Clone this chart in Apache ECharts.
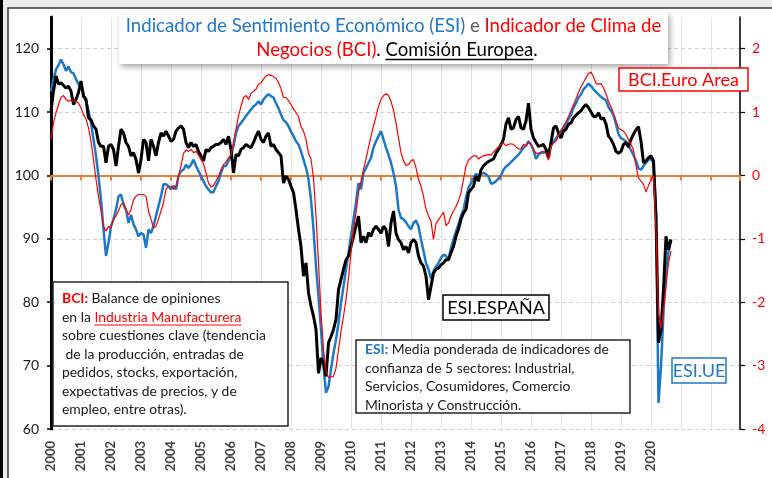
<!DOCTYPE html>
<html><head><meta charset="utf-8">
<script src="https://cdn.jsdelivr.net/npm/echarts@6/dist/echarts.min.js"></script>
<style>html,body{margin:0;padding:0;background:#fff}#c{width:772px;height:478px}</style>
</head><body><div id="c"></div>
<script>
// ---------- DATA (monthly, starting January 2000) ----------
const startYear = 2000;
const lastLabelYear = 2020;
const leftTicks = [60, 70, 80, 90, 100, 110, 120];
const rightTicks = [-4, -3, -2, -1, 0, 1, 2];

// ESI - European Union (left axis)
const esiUE = [
113.3,115.2,116.7,117.4,118.3,117.5,116.5,117.2,116.3,116.1,115.2,114.4,
114.1,112.8,111.7,110.2,108.3,105.7,103.1,99.9,96.2,91.5,87.3,89.4,
92.0,93.1,94.6,96.7,97.0,95.4,94.6,92.5,93.8,92.3,91.5,90.4,
90.9,90.7,88.6,91.5,90.9,92.0,93.6,95.2,96.7,98.6,98.6,98.3,
97.8,98.4,97.8,99.9,100.7,100.9,101.7,101.2,101.7,102.5,101.5,100.7,
99.9,99.1,98.3,97.8,97.3,97.4,98.3,99.1,100.4,101.5,101.5,102.3,
103.1,104.6,106.7,107.8,108.3,108.8,109.4,109.9,110.4,110.9,111.2,111.7,
111.2,112.0,112.5,112.8,112.5,112.3,111.4,110.6,109.6,108.7,108.4,107.8,
106.9,106.2,105.4,104.9,103.8,102.5,101.2,99.4,96.2,91.5,85.7,80.9,
75.7,69.9,65.7,66.7,69.4,72.0,74.1,76.7,79.9,82.5,85.2,87.8,
90.4,93.1,95.7,98.8,97.8,100.4,101.2,102.0,102.8,104.4,105.4,106.2,
107.0,105.7,104.4,103.3,102.0,100.4,98.3,94.6,93.3,93.1,92.6,92.0,
91.5,92.5,92.9,92.0,89.9,88.1,86.2,85.2,83.7,84.9,85.6,86.2,
87.0,87.5,87.3,86.7,88.6,89.9,91.2,92.3,93.6,94.6,96.5,98.1,
98.8,99.6,100.3,99.9,100.3,100.4,100.2,99.8,98.7,98.8,99.1,99.5,
100.0,100.9,101.4,101.7,102.1,102.5,102.9,103.3,103.8,104.4,104.7,105.4,
104.9,104.0,102.6,103.3,103.6,103.6,103.7,104.0,104.6,105.4,105.8,106.5,
107.0,107.5,108.2,108.9,109.6,110.7,111.4,112.3,112.8,113.6,114.0,114.5,
114.1,113.6,113.2,112.8,112.4,112.1,111.9,110.8,110.2,109.5,108.1,106.5,
105.9,105.7,105.3,104.6,104.0,103.2,102.3,101.1,100.9,101.5,102.0,102.5,
102.6,102.0,93.6,64.1,69.9,78.3,84.6,88.0,89.8
];

// ESI - España (left axis)
const esiES = [
110.2,113.3,115.7,114.4,114.6,114.2,113.8,114.1,113.3,111.2,112.0,113.1,
114.9,112.5,112.0,109.1,108.8,107.8,107.3,105.2,104.6,104.6,102.0,104.6,
104.9,104.1,101.5,104.6,107.3,106.7,105.2,104.6,103.1,103.6,102.5,100.4,
102.5,105.7,105.2,102.3,105.7,104.6,103.1,105.2,106.7,106.2,107.0,106.2,
105.4,105.7,107.0,107.5,107.8,107.3,105.2,104.4,105.2,104.6,104.9,103.8,
103.1,102.3,104.1,103.8,104.4,104.6,104.9,104.9,105.2,105.7,104.9,106.2,
104.1,100.4,103.3,103.1,104.1,104.4,104.9,104.6,104.4,105.2,106.2,107.0,
105.7,105.2,106.2,106.7,104.6,104.9,104.1,103.6,103.1,98.8,99.9,99.4,
98.3,97.3,94.6,91.5,88.8,84.1,86.2,81.5,79.4,77.8,75.7,68.8,
71.2,70.4,68.3,73.6,74.6,75.7,77.3,82.0,83.6,85.2,86.7,87.3,
88.8,90.4,92.0,93.6,89.4,90.4,89.4,91.0,90.4,91.5,92.0,91.5,
90.9,92.0,91.5,88.8,92.5,94.4,90.9,89.9,89.4,88.3,88.8,87.8,
89.4,89.9,89.4,87.3,86.2,85.7,84.1,80.4,82.5,84.6,85.2,85.4,
85.9,86.2,86.7,86.7,87.8,88.8,90.4,91.5,93.1,94.1,94.6,97.3,
97.8,98.3,99.9,99.1,100.9,101.5,101.9,102.2,102.4,102.6,103.5,104.1,
104.9,105.7,108.1,109.1,107.3,107.5,108.8,109.3,107.5,107.3,108.6,111.4,
107.3,105.9,105.2,104.6,104.7,104.9,104.1,102.8,105.2,107.5,107.8,106.7,
105.9,107.0,107.3,108.1,108.3,109.1,109.5,109.9,110.2,110.8,111.2,110.7,
110.0,109.3,109.3,109.9,108.9,109.1,108.1,106.2,105.7,104.9,103.8,103.5,
103.8,104.9,105.2,104.5,105.7,106.5,107.2,107.7,105.4,102.0,102.3,102.8,
103.1,102.3,93.6,73.6,75.7,82.0,90.4,88.3,89.9
];

// BCI - Euro Area (right axis)
const bciEA = [
0.57,0.83,0.99,1.12,1.23,1.26,1.20,1.17,1.19,1.19,1.17,1.14,
1.07,0.96,0.89,0.75,0.54,0.25,-0.06,-0.33,-0.56,-0.80,-0.88,-0.80,
-0.83,-0.69,-0.64,-0.56,-0.46,-0.43,-0.54,-0.62,-0.54,-0.38,-0.33,-0.30,
-0.30,-0.30,-0.33,-0.56,-0.69,-0.83,-0.80,-0.69,-0.56,-0.43,-0.22,-0.17,
-0.17,-0.22,-0.17,-0.01,0.15,0.35,0.40,0.38,0.41,0.36,0.38,0.32,
0.25,0.19,0.04,-0.12,-0.18,-0.16,-0.09,-0.01,0.09,0.17,0.21,0.28,
0.32,0.52,0.73,0.94,1.09,1.23,1.26,1.20,1.29,1.33,1.36,1.44,
1.46,1.52,1.57,1.59,1.58,1.56,1.53,1.47,1.37,1.23,1.23,1.18,
1.12,1.05,0.99,0.93,0.77,0.70,0.57,0.35,0.26,-0.04,-0.64,-1.38,
-2.16,-2.75,-3.09,-3.19,-3.18,-3.17,-3.04,-2.75,-2.46,-2.22,-1.96,-1.62,
-1.22,-0.85,-0.59,-0.27,-0.09,0.09,0.26,0.44,0.62,0.78,0.93,1.09,
1.20,1.26,1.29,1.26,1.17,1.03,0.83,0.59,0.36,0.23,0.16,0.17,
0.23,0.25,0.12,-0.06,-0.17,-0.33,-0.53,-0.64,-0.72,-1.01,-0.76,-0.70,
-0.64,-0.58,-0.79,-0.75,-0.64,-0.56,-0.49,-0.40,-0.27,-0.06,0.15,0.24,
0.28,0.31,0.31,0.26,0.29,0.31,0.32,0.33,0.32,0.37,0.41,0.45,
0.49,0.51,0.47,0.49,0.50,0.49,0.45,0.42,0.42,0.49,0.47,0.52,
0.49,0.41,0.35,0.35,0.37,0.38,0.35,0.24,0.46,0.51,0.54,0.63,
0.71,0.78,0.84,0.93,1.02,1.12,1.21,1.31,1.40,1.47,1.54,1.61,
1.63,1.56,1.45,1.44,1.45,1.38,1.29,1.17,1.08,0.98,0.86,0.75,
0.72,0.70,0.65,0.56,0.49,0.40,0.15,-0.04,-0.09,-0.14,-0.26,-0.16,
-0.07,-0.01,-0.85,-2.17,-2.41,-2.12,-1.75,-1.38,-1.19
];

// ---------- CHART ----------
const FONT = 'Lato, "Open Sans", sans-serif';
const BLUE = '#1E78C8', RED = '#FF0000', ORANGE = '#ED7D31';
const toPts = arr => arr.map((v, i) => [startYear + i / 12, v]);

const cv = document.createElement('canvas').getContext('2d');
function tw(t, size, weight) { cv.font = (weight || 'normal') + ' ' + size + 'px ' + FONT; return cv.measureText(t).width; }

const G = [];
// frame
G.push({type:'rect', z:-100, shape:{x:0,y:0,width:772,height:478}, style:{fill:'#ebebeb'}});
G.push({type:'rect', z:-99, shape:{x:8,y:8,width:800,height:500}, style:{fill:'#ffffff', stroke:'#333', lineWidth:1.5}});
G.push({type:'rect', z:-98, shape:{x:0,y:0,width:3,height:478}, style:{fill:'#000'}});

// title box
G.push({type:'rect', z:50, shape:{x:119,y:12,width:549,height:52}, style:{fill:'#fff', shadowBlur:6, shadowOffsetX:2, shadowOffsetY:3, shadowColor:'rgba(0,0,0,0.35)'}});
const TS = 18.6;
const richT = {
  b:{fill:BLUE, fontSize:TS, fontFamily:FONT},
  g:{fill:'#595959', fontSize:TS, fontFamily:FONT},
  r:{fill:RED, fontSize:TS, fontFamily:FONT},
  k:{fill:'#000', fontSize:TS, fontFamily:FONT}
};
G.push({type:'text', z:51, x:393.5, y:26, style:{text:'{b|Indicador de Sentimiento Económico (ESI)}{g| e }{r|Indicador de Clima de}', rich:richT, align:'center', verticalAlign:'middle', fontSize:TS, fontFamily:FONT}});
G.push({type:'text', z:51, x:397, y:50, style:{text:'{r|Negocios (BCI)}{k|. Comisión Europea.}', rich:richT, align:'center', verticalAlign:'middle', fontSize:TS, fontFamily:FONT}});
(function(){
  const W = tw('Negocios (BCI). Comisión Europea.', TS);
  const x0 = 397 - W/2 + tw('Negocios (BCI). ', TS);
  const w = tw('Comisión Europea', TS);
  G.push({type:'line', z:52, shape:{x1:x0,y1:59.5,x2:x0+w,y2:59.5}, style:{stroke:'#000', lineWidth:1.5}});
})();

// series tag boxes
function tag(x, y, w, h, txt, col) {
  G.push({type:'rect', z:50, shape:{x:x,y:y,width:w,height:h}, style:{fill:'#fff', stroke:col, lineWidth:1.5}});
  G.push({type:'text', z:51, x:x+w/2, y:y+h/2+1, style:{text:txt, fill:col, fontSize:18, fontFamily:FONT, align:'center', verticalAlign:'middle'}});
}
tag(619, 68, 129, 23, 'BCI.Euro Area', RED);
tag(443, 295, 106, 25, 'ESI.ESPAÑA', '#000');
tag(672, 358, 54, 25, 'ESI.UE', BLUE);

// description boxes
const DS = 13.9;
const richD = {
  rb:{fill:RED, fontWeight:'bold', fontSize:DS, fontFamily:FONT},
  bb:{fill:BLUE, fontWeight:'bold', fontSize:DS, fontFamily:FONT},
  r:{fill:RED, fontSize:DS, fontFamily:FONT},
  k:{fill:'#1a1a1a', fontSize:DS, fontFamily:FONT}
};
G.push({type:'rect', z:50, shape:{x:53,y:282,width:235,height:144}, style:{fill:'#fff', stroke:'#262626', lineWidth:1.5}});
const bciLines = [
  '{rb|BCI:}{k| Balance de opiniones}',
  '{k|en la }{r|Industria Manufacturera}',
  '{k|sobre cuestiones clave (tendencia}',
  '{k| de la producción, entradas de}',
  '{k|pedidos, stocks, exportación,}',
  '{k|expectativas de precios, y de}',
  '{k|empleo, entre otras).}'
];
bciLines.forEach((t, i) => {
  G.push({type:'text', z:51, x:62, y:299 + i*18.5, style:{text:t, rich:richD, align:'left', verticalAlign:'middle', fontSize:DS, fontFamily:FONT}});
});
(function(){
  const x0 = 62 + tw('en la ', DS);
  const w = tw('Industria Manufacturera', DS);
  G.push({type:'line', z:52, shape:{x1:x0,y1:325,x2:x0+w,y2:325}, style:{stroke:RED, lineWidth:1}});
})();
G.push({type:'rect', z:50, shape:{x:356,y:340,width:274,height:73}, style:{fill:'#fff', stroke:'#262626', lineWidth:1.5}});
const esiLines = [
  '{bb|ESI:}{k| Media ponderada de indicadores de}',
  '{k|confianza de 5 sectores: Industrial,}',
  '{k|Servicios, Cosumidores, Comercio}',
  '{k|Minorista y Construcción.}'
];
esiLines.forEach((t, i) => {
  G.push({type:'text', z:51, x:365, y:350 + i*18.4, style:{text:t, rich:richD, align:'left', verticalAlign:'middle', fontSize:DS, fontFamily:FONT}});
});

const xMin = startYear, xMax = startYear + 689/30;
const chart = echarts.init(document.getElementById('c'), null, {renderer:'canvas'});
chart.setOption({
  animation: false,
  backgroundColor: 'transparent',
  grid: {left:51, right:32, top:17, bottom:49, containLabel:false},
  xAxis: [{
    type:'value', min:xMin, max:xMax, interval:1, position:'bottom',
    axisLine:{show:false}, axisTick:{show:false},
    axisLabel:{rotate:90, margin:12, fontSize:13, fontWeight:'bold', color:'#404040', fontFamily:FONT,
      formatter: v => (Number.isInteger(v) && v <= lastLabelYear) ? String(v) : ''},
    splitLine:{show:true, lineStyle:{color:'#e4e4e4', width:1}}
  },{
    type:'value', min:xMin, max:xMax, interval:1, position:'bottom',
    axisLine:{show:true, onZero:true, onZeroAxisIndex:1, lineStyle:{color:ORANGE, width:2}},
    axisTick:{show:true, length:5, lineStyle:{color:ORANGE, width:2}},
    axisLabel:{show:false}, splitLine:{show:false}
  }],
  yAxis: [{
    type:'value', position:'left', min:60, max:125, interval:10,
    axisLine:{show:true, onZero:false, lineStyle:{color:'#000', width:3}},
    axisTick:{show:true, length:4, lineStyle:{color:'#000', width:1.5}},
    axisLabel:{fontSize:14, color:'#1a1a1a', margin:12, fontFamily:FONT, showMaxLabel:false},
    splitLine:{show:true, showMaxLine:false, lineStyle:{color:'#cfcfcf', type:[4,3], width:1}}
  },{
    type:'value', position:'right', min:-4, max:2.5, interval:1,
    axisLine:{show:true, onZero:false, lineStyle:{color:'#000', width:1.5}},
    axisTick:{show:true, length:5, lineStyle:{color:'#000', width:1.2}},
    axisLabel:{fontSize:14, color:RED, margin:12, fontFamily:FONT, showMaxLabel:false},
    splitLine:{show:false}
  }],
  series: [
    {name:'ESI.UE', type:'line', xAxisIndex:0, yAxisIndex:0, data:toPts(esiUE), showSymbol:false, z:3,
      lineStyle:{color:BLUE, width:2.5}},
    {name:'ESI.ESPAÑA', type:'line', xAxisIndex:0, yAxisIndex:0, data:toPts(esiES), showSymbol:false, z:4,
      lineStyle:{color:'#000', width:3}},
    {name:'BCI.Euro Area', type:'line', xAxisIndex:0, yAxisIndex:1, data:toPts(bciEA), showSymbol:false, z:5,
      lineStyle:{color:RED, width:1.2}}
  ],
  graphic: {elements: G}
});
</script></body></html>
